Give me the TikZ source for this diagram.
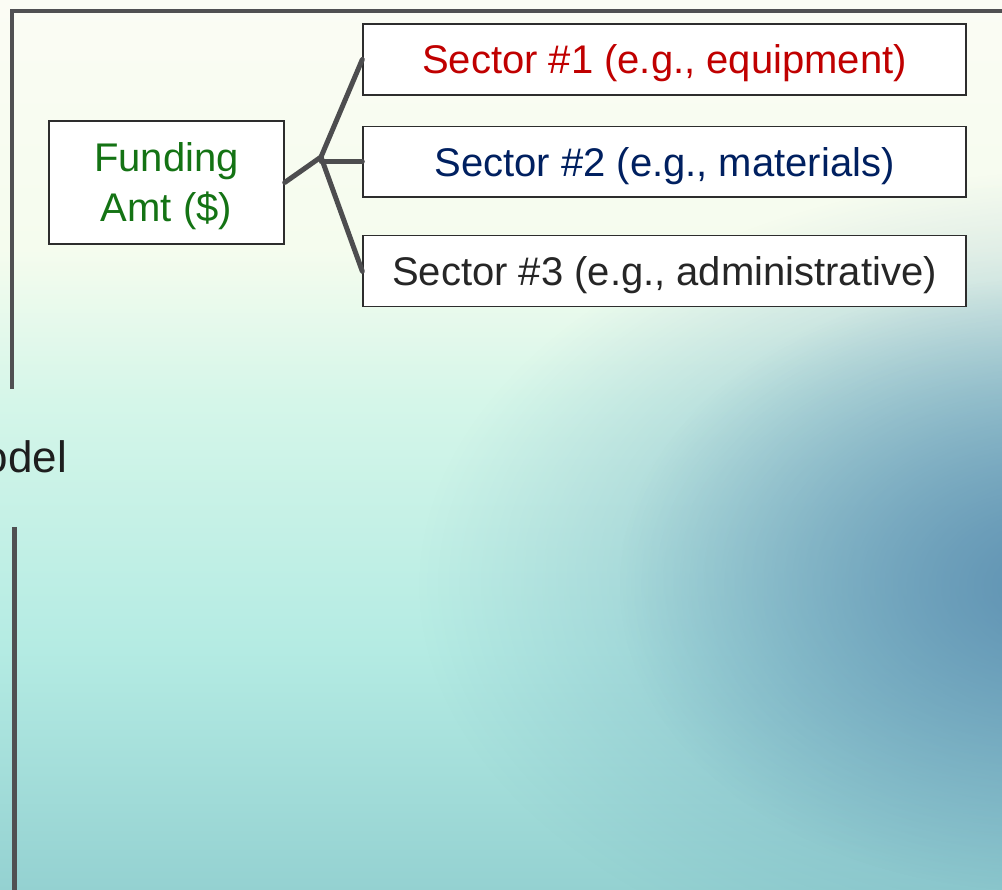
\documentclass[tikz,border=0pt]{standalone}
\usepackage{fontspec}
\setmainfont{Liberation Sans}
\usetikzlibrary{fadings}
\tikzfading[name=blobfade, inner color=transparent!0, outer color=transparent!100]
\pgfdeclareverticalshading{bgshade}{100bp}{rgb(0bp)=(0.580,0.820,0.820); rgb(25bp)=(0.580,0.820,0.820); rgb(38.5bp)=(0.706,0.922,0.890); rgb(52.5bp)=(0.835,0.965,0.914); rgb(61bp)=(0.961,0.988,0.933); rgb(75bp)=(0.984,0.988,0.957); rgb(100bp)=(0.984,0.988,0.957)}
\definecolor{blobc}{RGB}{98,152,184}
\definecolor{blobd}{RGB}{84,134,172}
\definecolor{framec}{RGB}{80,80,82}
\definecolor{connc}{RGB}{77,77,79}
\definecolor{boxline}{RGB}{45,45,45}
\definecolor{sec1}{RGB}{192,0,0}
\definecolor{sec2}{RGB}{0,32,96}
\definecolor{sec3}{RGB}{38,38,38}
\definecolor{fundc}{RGB}{20,115,20}
\definecolor{modelc}{RGB}{30,30,30}
\begin{document}
\begin{tikzpicture}[x=1pt,y=-1pt,
  secbox/.style={draw=boxline, line width=1.4pt, fill=white, minimum width=603pt, minimum height=71pt, inner sep=0pt, text depth=0pt, font=\fontsize{40}{48}\selectfont},
  fundbox/.style={draw=boxline, line width=1.4pt, fill=white, minimum width=235pt, minimum height=123pt, inner sep=0pt, text depth=0pt, align=center, font=\fontsize{40}{50}\selectfont, text=fundc},
  conn/.style={draw=connc, line width=5pt, line join=round, line cap=round},
  frame/.style={draw=framec, line width=4.5pt},
  labeltext/.style={font=\fontsize{44}{50}\selectfont, text=modelc, inner sep=0pt}]
\useasboundingbox (0,0) rectangle (1002,890);
\clip (0,0) rectangle (1002,890);
% background
\shade[shading=bgshade] (0,0) rectangle (1002,890);
\fill[blobc, opacity=0.75, path fading=blobfade] (420,170) rectangle (1780,1000);
\fill[blobd, opacity=0.7, path fading=blobfade] (620,280) rectangle (1460,890);
% frame lines
\draw[frame] (12,389) -- (12,11) -- (1002,11);
\draw[frame] (14.5,527) -- (14.5,890);
\node[labeltext, anchor=base east] (model) at (67,473) {Model};
% nodes
\node[fundbox] (fund) at (166.5,182.5) {Funding\\Amt (\$)};
\node[secbox, text=sec1] (s1) at (664.5,59.5) {Sector \#1 (e.g., equipment)};
\node[secbox, text=sec2, minimum height=70.5pt] (s2) at (664.5,161.75) {Sector \#2 (e.g., materials)};
\node[secbox, text=sec3] (s3) at (664.5,271.25) {Sector \#3 (e.g., administrative)};
\coordinate (j) at (321,157);
% connectors
\draw[conn] (fund.east) -- (j) -- (s1.west);
\draw[conn] (j) -- (j |- s2.west) -- (s2.west);
\draw[conn] (j) -- (s3.west);
\end{tikzpicture}
\end{document}
